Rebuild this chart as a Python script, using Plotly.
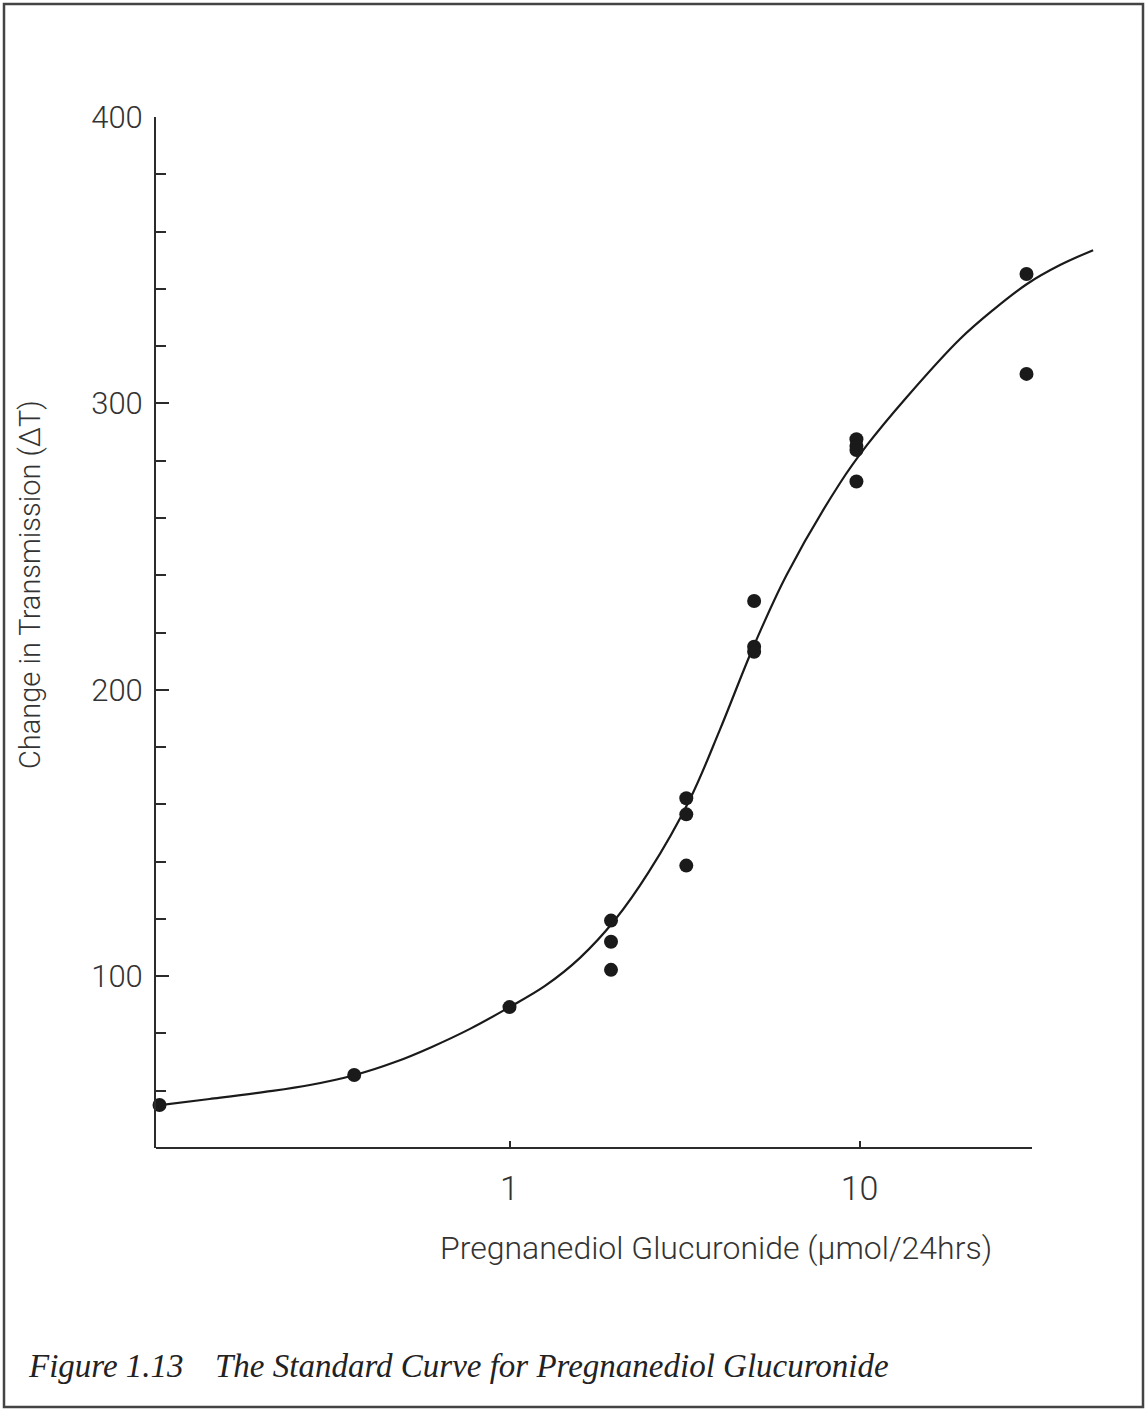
import plotly.graph_objects as go

# ---- data ----
point_x = [0.1, 0.36, 1.0, 1.95, 1.95, 1.95, 3.2, 3.2, 3.2, 5.0, 5.0, 5.0, 9.8, 9.8, 9.8, 9.8, 30, 30]
point_y = [55.0, 65.5, 89.2, 119.4, 112.0, 102.2, 162.1, 156.5, 138.6, 231.0, 215.0, 213.3,
           287.5, 285.1, 283.7, 272.7, 345.2, 310.3]

curve_x = [0.0977, 0.139, 0.2, 0.269, 0.362, 0.471, 0.6, 0.771, 1.0, 1.263, 1.59, 2.0, 2.5,
           3.28, 3.99, 4.96, 6.19, 8.8, 10.5, 13.6, 19.37, 24.06, 30.1, 37.4, 46.5]
curve_y = [54.8, 57.1, 59.6, 62.0, 65.5, 70.0, 75.3, 81.6, 89.2, 96.6, 106.4, 119.6, 136.4,
           161.9, 186.0, 214.6, 240.1, 272.2, 285.4, 302.0, 322.5, 332.6, 341.7, 348.3, 353.5]

x_tickvals = [1, 10]
x_ticktext = ["1", "10"]
y_tickvals = [100, 200, 300, 400]
y_ticktext = ["100", "200", "300", "400"]

x_title = "Pregnanediol Glucuronide (µmol/24hrs)"
y_title = "Change in Transmission (ΔT)"
caption_num = "Figure 1.13"
caption_text = "The Standard Curve for Pregnanediol Glucuronide"

# ---- layout geometry ----
W, H = 1147, 1410
ML, MR, MT, MB = 156, 42, 117, 262
PW = W - ML - MR
PH = H - MT - MB


def px_x(px):
    return (px - ML) / PW


def px_y(py):
    return (H - MB - py) / PH


INK = "#2b2b2b"
TXT = "#333333"
SANS = "Roboto, Liberation Sans, Arial, sans-serif"
SERIF = "Liberation Serif, Times New Roman, serif"

fig = go.Figure()
fig.add_trace(go.Scatter(x=curve_x, y=curve_y, mode="lines",
                         line=dict(color="#1a1a1a", width=2.2, shape="spline", smoothing=1.0),
                         cliponaxis=False, showlegend=False, hoverinfo="skip"))
fig.add_trace(go.Scatter(x=point_x, y=point_y, mode="markers",
                         marker=dict(color="#1a1a1a", size=14),
                         cliponaxis=False, showlegend=False))

fig.update_layout(
    width=W, height=H,
    margin=dict(l=ML, r=MR, t=MT, b=MB, pad=0),
    paper_bgcolor="white", plot_bgcolor="white",
    xaxis=dict(type="log", range=[-1.01, -1.01 + PW / 350.0], showgrid=False, zeroline=False,
               showline=False, tickvals=x_tickvals, ticktext=x_ticktext,
               ticks="inside", ticklen=7, tickwidth=2, tickcolor=INK,
               tickfont=dict(family=SANS, size=34, color=TXT, weight=300),
               ticklabelstandoff=17, automargin=False),
    yaxis=dict(range=[40, 400], showgrid=False, zeroline=False,
               showline=True, linecolor=INK, linewidth=2,
               tickvals=y_tickvals, ticktext=y_ticktext,
               ticks="inside", ticklen=13, tickwidth=2, tickcolor=INK,
               minor=dict(dtick=20, tick0=0, ticks="inside", ticklen=10, tickwidth=2, tickcolor=INK),
               tickfont=dict(family=SANS, size=31, color=TXT, weight=300),
               ticklabelstandoff=5, automargin=False),
    shapes=[
        # bottom axis line (ends before the curve does)
        dict(type="line", xref="paper", yref="paper", x0=px_x(156), x1=px_x(1032), y0=0, y1=0,
             line=dict(color=INK, width=2)),
        # page frame
        dict(type="rect", xref="paper", yref="paper", x0=px_x(4), x1=px_x(1143),
             y0=px_y(1407), y1=px_y(4), line=dict(color="#444", width=2.5)),
    ],
    annotations=[
        dict(text=x_title, xref="paper", yref="paper", x=px_x(716), y=px_y(1248),
             xanchor="center", yanchor="middle", showarrow=False,
             font=dict(family=SANS, size=32, color=TXT, weight=300)),
        dict(text=y_title, xref="paper", yref="paper", x=px_x(30), y=px_y(585),
             xanchor="center", yanchor="middle", showarrow=False, textangle=-90,
             font=dict(family=SANS, size=29, color=TXT, weight=300)),
        dict(text="<i>" + caption_num + "</i>", xref="paper", yref="paper", x=px_x(26), y=px_y(1366),
             xanchor="left", yanchor="middle", showarrow=False,
             font=dict(family=SERIF, size=33, color="#222")),
        dict(text="<i>" + caption_text + "</i>", xref="paper", yref="paper", x=px_x(213), y=px_y(1366),
             xanchor="left", yanchor="middle", showarrow=False,
             font=dict(family=SERIF, size=33, color="#222")),
    ],
)

fig.write_html("out.html", config={"displayModeBar": False},
               post_script="document.body.style.margin='0px';")
